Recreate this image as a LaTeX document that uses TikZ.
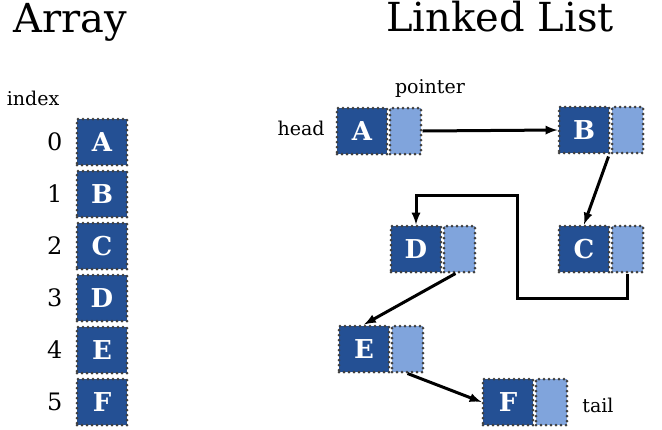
\documentclass[tikz,border=0pt]{standalone}
\usepackage{fontspec}
\setmainfont{DejaVu Serif}
\begin{document}
\begin{tikzpicture}[x=1pt,y=-1pt,
  dk/.style={fill=dkb, draw=black!75, dash pattern=on 0pt off 5pt, line width=3pt, line cap=round, minimum width=50pt, minimum height=46pt, inner sep=0pt, text=white, font=\fontsize{26}{26}\selectfont\bfseries},
  lt/.style={fill=ltb, draw=black!75, dash pattern=on 0pt off 5pt, line width=3pt, line cap=round, minimum width=31pt, minimum height=46pt, inner sep=0pt, anchor=west},
  ar/.style={-latex, line width=3pt},
  num/.style={font=\fontsize{24}{24}\selectfont},
  lab/.style={font=\fontsize{19}{19}\selectfont}]
\definecolor{dkb}{RGB}{36,80,148}
\definecolor{ltb}{RGB}{128,164,220}
\useasboundingbox (0,0) rectangle (662,429);
\node[font=\fontsize{40}{40}\selectfont] (t1) at (70,22) {Array};
\node[font=\fontsize{40}{40}\selectfont] (t2) at (500,17) {Linked List};
\node[lab] (idx) at (33,98) {index};
\foreach \l/\y/\n in {A/142/0,B/194/1,C/246/2,D/298/3,E/350/4,F/402/5}{
  \node[dk] (c\l) at (102,\y) {\l};
  \node[num,anchor=east] (n\n) at (66,\y) {\n};
}
\node[dk] (A) at (362,131) {A}; \node[lt] (Ap) at (A.east) {};
\node[dk] (B) at (584,130) {B}; \node[lt] (Bp) at (B.east) {};
\node[dk] (D) at (416,249) {D}; \node[lt] (Dp) at (D.east) {};
\node[dk] (C) at (584,249) {C}; \node[lt] (Cp) at (C.east) {};
\node[dk] (E) at (364,349) {E}; \node[lt] (Ep) at (E.east) {};
\node[dk] (F) at (508,402) {F}; \node[lt] (Fp) at (F.east) {};
\node[lab] (head) at (301,128) {head};
\node[lab] (ptr) at (430,88) {pointer};
\node[lab] (tail) at (598,405) {tail};
\draw[ar] (Ap.east) -- (B.west);
\draw[ar] (B.south east) ++(-2,2) -- (C.north);
\draw[ar] (Cp.south) -- ++(0,25) -| (517,195) -| (D.north);
\draw[ar] (Dp.south) ++(-4,0) -- (E.north);
\draw[ar] (Ep.south) -- (F.west);
\end{tikzpicture}
\end{document}
